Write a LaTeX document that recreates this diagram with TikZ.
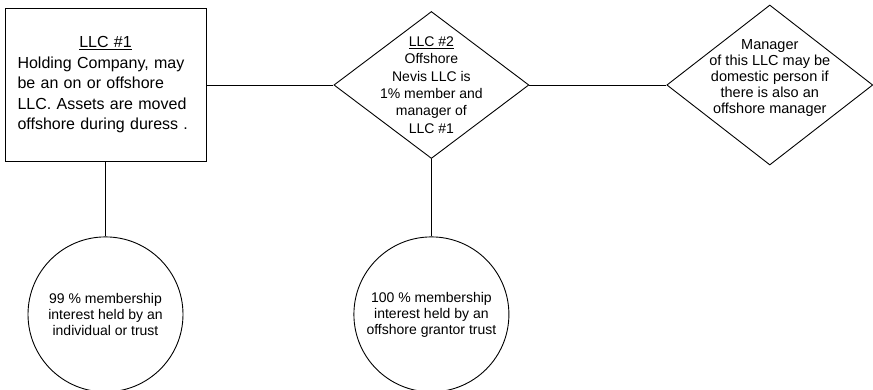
\documentclass[tikz,border=0pt]{standalone}
\usepackage{fontspec}
\setmainfont{Liberation Sans}
\usetikzlibrary{shapes.geometric}
\usetikzlibrary{positioning}

\begin{document}
\begin{tikzpicture}[line width=0.9pt,
		box/.style = {draw, rectangle, minimum width=201pt, minimum height=153pt, inner sep=0pt},
		diam/.style = {draw, diamond, inner sep=0pt},
		circ/.style = {draw, circle, minimum size=155pt, inner sep=0pt},
		txt/.style = {align=center, inner sep=0pt}]
		\useasboundingbox (0,0) rectangle (873pt,-390pt);
		\node[box] (L1) at (105.5pt,-85pt) {};
		\node[diam, minimum width=195pt, minimum height=147pt] (L2) [right = 127pt of L1] {};
		\node[diam, minimum width=206pt, minimum height=160pt] (M) [right = 137pt of L2] {};
		\node[circ] (C1) [below = 74.5pt of L1] {};
		\node[circ] (C2) [below = 77.5pt of L2] {};
		
		\draw (L1) -- (L2);
		\draw (L2) -- (M);
		\draw (L1) -- (C1);
		\draw (L2) -- (C2);
		
		\node[txt, align=left, text width=176pt, font=\fontsize{16}{20.5}\selectfont] (L1t) at (L1)
			{\hfill\underline{LLC \#1}\hfill\null\\ Holding Company, may\\ be an on or offshore\\ LLC. Assets are moved\\ offshore during duress .};
		\node[txt, font=\fontsize{14}{17.4}\selectfont] (L2t) at (L2)
			{\underline{LLC \#2}\\ Offshore\\ Nevis LLC is\\ 1\% member and\\ manager of\\ LLC \#1};
		\node[txt, font=\fontsize{14.5}{16}\selectfont] (Mt) [yshift=7pt] at (M)
			{Manager\\ of this LLC may be\\ domestic person if\\ there is also an\\ offshore manager};
		\node[txt, font=\fontsize{14}{16}\selectfont] (C1t) at (C1)
			{99 \% membership\\ interest held by an\\ individual or trust};
		\node[txt, font=\fontsize{14}{16}\selectfont] (C2t) at (C2)
			{100 \% membership\\ interest held by an\\ offshore grantor trust};
	\end{tikzpicture}
\end{document}
